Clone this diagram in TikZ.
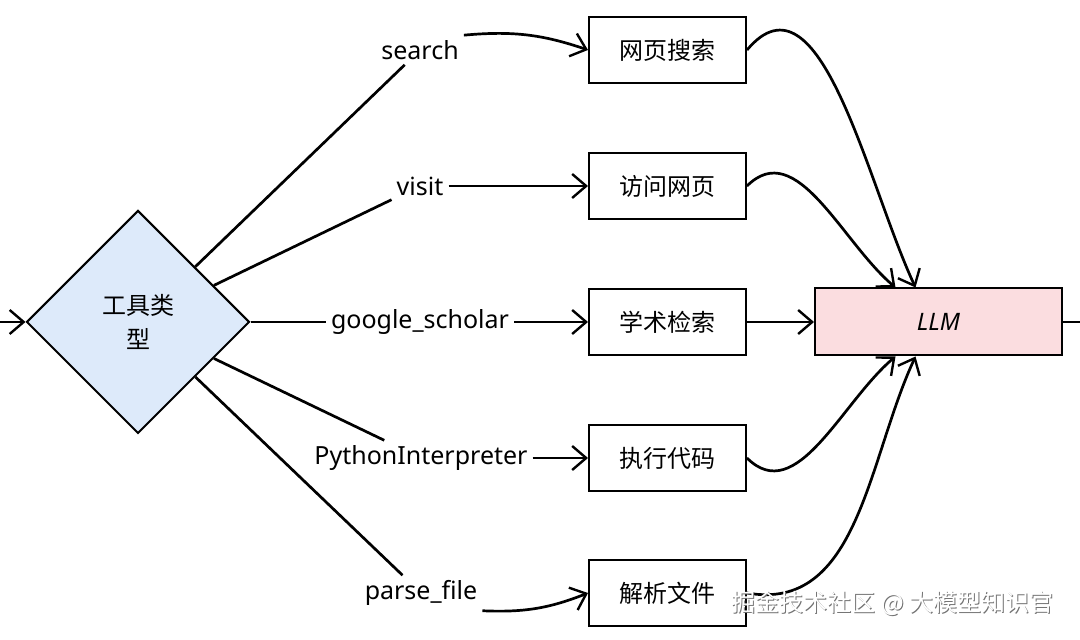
\documentclass[tikz,border=0pt]{standalone}
\usepackage{fontspec}
\setmainfont{Noto Sans}
\newfontfamily\cjk{Noto Sans CJK SC}
\usetikzlibrary{shapes.geometric,arrows.meta}
\definecolor{toolblue}{RGB}{221,234,250}
\definecolor{llmpink}{RGB}{251,221,224}
\tikzset{
  toolbox/.style={draw=black, line width=2pt, fill=white, minimum width=157pt, minimum height=66pt, font=\cjk\fontsize{24}{30}\selectfont},
  llmbox/.style={draw=black, line width=2pt, fill=llmpink, minimum width=247pt, minimum height=67pt, font=\itshape\fontsize{24}{30}\selectfont},
  decision/.style={diamond, draw=black, line width=2pt, fill=toolblue, minimum width=223pt, minimum height=223pt, align=center, inner sep=2pt, font=\cjk\fontsize{24}{34}\selectfont},
  lbl/.style={inner sep=5pt, font=\fontsize{25}{30}\selectfont},
  conn/.style={black, line width=2.7pt},
  arr/.style={conn, -{Straight Barb[length=14pt,width=24pt,line width=2.4pt]}}
}
\begin{document}
\begin{tikzpicture}[x=1pt,y=1pt]
\useasboundingbox (0,0) rectangle (1080,640);
% tool type decision
\node[decision] (tool) at (138,318) {工具类\\型};
\coordinate (in) at (-2,318);
\draw[arr] (in) -- (tool.west);
% tool names
\node[lbl] (search) at (420,590) {search};
\node[lbl] (visit) at (420,454) {visit};
\node[lbl] (scholar) at (420,318) {google\_scholar};
\node[lbl] (python) at (421,182) {PythonInterpreter};
\node[lbl] (parse) at (421,47) {parse\_file};
% tool boxes
\node[toolbox] (web) at (667.5,590) {网页搜索};
\node[toolbox] (page) at (667.5,454) {访问网页};
\node[toolbox] (paper) at (667.5,318) {学术检索};
\node[toolbox] (code) at (667.5,182) {执行代码};
\node[toolbox] (file) at (667.5,47) {解析文件};
% llm
\node[llmbox] (llm) at (938.5,318) {LLM};
\coordinate (out) at (1082,318);
\draw[conn] (llm.east) -- (out);
% diamond to names
\draw[conn] (tool) -- (search);
\draw[conn] (tool) -- (visit);
\draw[conn] (tool) -- (scholar);
\draw[conn] (tool) -- (python);
\draw[conn] (tool) -- (parse);
% names to boxes
\draw[arr] (search.north east) to[bend left=12] (web.west);
\draw[arr] (visit) -- (page);
\draw[arr] (scholar) -- (paper);
\draw[arr] (python) -- (code);
\draw[arr] (parse.south east) to[bend right=12] (file.west);
% boxes to llm
\draw[arr] (web.east) to[out=50,in=115] ([xshift=-23pt]llm.north);
\draw[arr] (page.east) to[out=45,in=140] ([xshift=-43pt]llm.north);
\draw[arr] (paper) -- (llm);
\draw[arr] (code.east) to[out=-45,in=-140] ([xshift=-43pt]llm.south);
\draw[arr] (file.east) to[out=-10,in=-115] ([xshift=-23pt]llm.south);
% watermark
\node[font=\cjk\fontsize{24}{30}\selectfont, text=black!55] (mark) at (893.5,36) {掘金技术社区 @ 大模型知识官};
\node[font=\cjk\fontsize{24}{30}\selectfont, text=white] (marktop) at (892.5,37) {掘金技术社区 @ 大模型知识官};
\end{tikzpicture}
\end{document}
